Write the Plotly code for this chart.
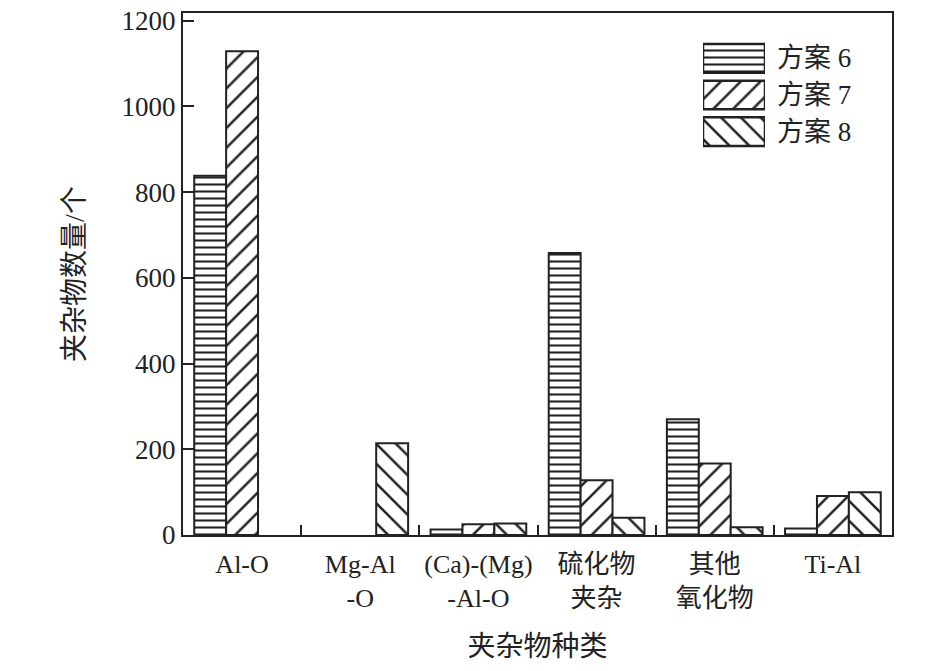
import plotly.graph_objects as go

categories = ["Al-O", "Mg-Al<br>-O", "(Ca)-(Mg)<br>-Al-O", "硫化物<br>夹杂", "其他<br>氧化物", "Ti-Al"]
series_names = ["方案 6", "方案 7", "方案 8"]
plan6 = [838, 0, 13, 658, 270, 15]
plan7 = [1129, 0, 25, 128, 167, 91]
plan8 = [0, 214, 27, 40, 18, 100]
y_ticks = [0, 200, 400, 600, 800, 1000, 1200]

FONT = "Liberation Serif, Times New Roman, Noto Sans CJK SC, serif"
INK = "#222"

# page has an 8px body margin; compensate so the plot lands where the reference has it
OFF = 8
L, R, T, B = 183 - OFF, 945 - 892 + OFF, 13 - OFF, 671 - 535 + OFF
PW, PH = 892 - 183, 535 - 13

fig = go.Figure()
patterns = [("-", 7, 0.3), ("/", 14, 0.18), ("\\", 14, 0.18)]
for name, vals, (shape, size, sol) in zip(series_names, [plan6, plan7, plan8], patterns):
    pat = dict(shape=shape, size=size, solidity=sol, fgcolor=INK, bgcolor="white", fillmode="replace")
    fig.add_trace(go.Bar(
        x=categories, y=vals, name=name, showlegend=False,
        marker=dict(color="white", line=dict(color=INK, width=[2 if v > 0 else 0 for v in vals]),
                    pattern=pat),
    ))
    # legend swatch drawn on a small auxiliary axis
    fig.add_trace(go.Bar(
        x=[1], y=[name], orientation="h", xaxis="x2", yaxis="y2", showlegend=False,
        hoverinfo="skip", width=0.78, offset=-0.39,
        marker=dict(color="white", line=dict(color=INK, width=2.5), pattern=pat),
    ))
    fig.add_annotation(x=(775 - 183) / PW, xref="paper", xanchor="left", y=name, yref="y2",
                       text=name, showarrow=False, font=dict(size=27, family=FONT, color=INK))

fig.update_layout(
    width=945, height=671,
    margin=dict(l=L, r=R, t=T, b=B),
    paper_bgcolor="white", plot_bgcolor="white",
    barmode="group", bargap=0.19, bargroupgap=0,
    font=dict(family=FONT, size=26, color=INK),
    showlegend=False,
    xaxis=dict(
        type="category", showline=True, linecolor=INK, linewidth=2, mirror=True,
        ticks="inside", tickson="boundaries", ticklen=10, tickwidth=2, tickcolor=INK,
        showgrid=False, tickfont=dict(size=26, family=FONT), tickangle=0, automargin=False,
        ticklabelstandoff=5,
        title=dict(text="夹杂物种类", font=dict(size=28, family=FONT), standoff=24),
    ),
    yaxis=dict(
        range=[0, 1218], tickvals=y_ticks, showline=True, linecolor=INK, linewidth=2,
        mirror=True, ticks="inside", ticklen=11, tickwidth=2, tickcolor=INK,
        showgrid=False, zeroline=False, tickfont=dict(size=27, family=FONT), automargin=False,
        ticklabeloverflow="allow",
        title=dict(text="夹杂物数量/个", font=dict(size=28, family=FONT), standoff=29),
    ),
    xaxis2=dict(domain=[(703 - 183) / PW, (765 - 183) / PW], range=[0, 1], visible=False,
                fixedrange=True, anchor="y2"),
    yaxis2=dict(domain=[(535 - 150) / PH, (535 - 40) / PH], type="category",
                autorange="reversed", visible=False, fixedrange=True, anchor="x2"),
)

fig.write_html("out.html")
